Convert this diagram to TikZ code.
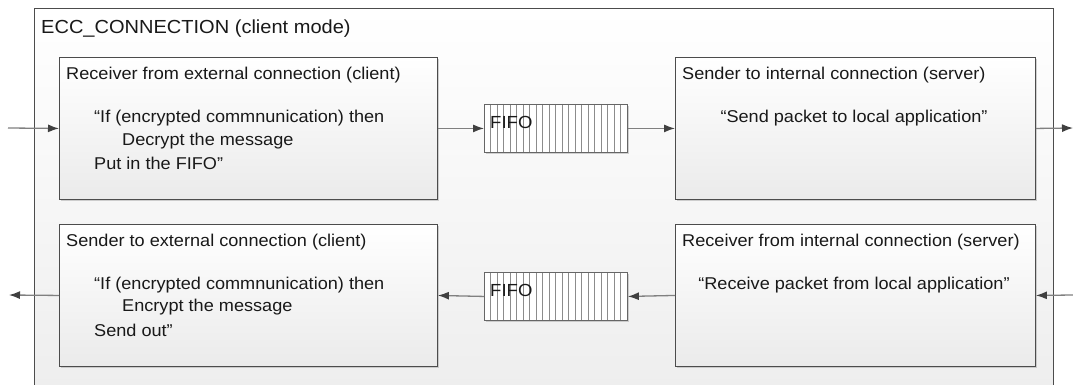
\documentclass[tikz,border=0pt]{standalone}
\usepackage{fontspec}
\setmainfont{Liberation Sans}[FakeStretch=1.06]
\usetikzlibrary{arrows.meta,shadows,calc}

\tikzset{
  container/.style={draw=black!70, line width=0.9pt, top color=white, bottom color=black!7,
                    inner sep=0pt, anchor=north west},
  procbox/.style={draw=black!70, line width=0.9pt, top color=white, bottom color=black!8,
                  inner sep=0pt, anchor=north west, minimum width=378pt, minimum height=142pt,
                  drop shadow={shadow xshift=2pt, shadow yshift=-2pt, fill=black!35, opacity=0.5}},
  fifobox/.style={draw=black!60, line width=0.9pt, fill=white, inner sep=0pt, anchor=north west,
                  minimum width=143pt, minimum height=48pt,
                  drop shadow={shadow xshift=2pt, shadow yshift=-2pt, fill=black!35, opacity=0.5}},
  stripe/.style={draw=black!45, line width=1pt},
  txt/.style={anchor=west, inner sep=0pt, text=black!90, font=\fontsize{17.1}{20}\selectfont},
  titletxt/.style={anchor=west, inner sep=0pt, text=black!90, font=\fontsize{18.9}{20}\selectfont},
  flow/.style={draw=black!50, line width=1.3pt, -{Latex[length=11pt,width=8pt,color=black!75]}},
}

\begin{document}
\begin{tikzpicture}[x=1pt,y=-1pt]
\useasboundingbox (0,0) rectangle (1073,385);
\clip (0,0) rectangle (1073,385);
\fill[white] (0,0) rectangle (1073,385);

% enclosing component
\node[container, minimum width=1019pt, minimum height=400pt] (ecc) at (34,8) {};
\node[titletxt] (ecctitle) at (41,29) {ECC\_CONNECTION (client mode)};

% processing blocks
\node[procbox] (rx) at (59,57) {};
\node[procbox, minimum width=360pt] (tx) at (675,57) {};
\node[procbox] (sx) at (59,224) {};
\node[procbox, minimum width=360pt] (rr) at (675,224) {};

% queues
\node[fifobox] (fa) at (484,104) {};
\node[fifobox] (fb) at (484,272) {};
\foreach \q in {fa,fb}{
  \foreach \i in {1,...,21}{
    \draw[stripe] ($(\q.north west)+(\i*6.5,0)$) -- ($(\q.south west)+(\i*6.5,0)$);
  }
  \draw[draw=black!60, line width=0.9pt] (\q.north west) rectangle (\q.south east);
}
\node[txt, font=\fontsize{17.5}{20}\selectfont] (fatxt) at (490,122) {FIFO};
\node[txt, font=\fontsize{17.5}{20}\selectfont] (fbtxt) at (490,290) {FIFO};

% block texts
\node[txt] (rxtitle) at (66,75) {Receiver from external connection (client)};
\node[txt] (rxl1) at (94,118) {“If (encrypted commnunication) then};
\node[txt] (rxl2) at (122,141) {Decrypt the message};
\node[txt] (rxl3) at (94,163) {Put in the FIFO”};

\node[txt] (txtitle) at (682,75) {Sender to internal connection (server)};
\node[txt, anchor=center] (txl1) at (854,118) {“Send packet to local application”};

\node[txt] (sxtitle) at (66,242) {Sender to external connection (client)};
\node[txt] (sxl1) at (94,285) {“If (encrypted commnunication) then};
\node[txt] (sxl2) at (122,307) {Encrypt the message};
\node[txt] (sxl3) at (94,330) {Send out”};

\node[txt] (rrtitle) at (682,242) {Receiver from internal connection (server)};
\node[txt, anchor=center] (rrl1) at (854,285) {“Receive packet from local application”};

% external ends
\coordinate (inL) at (8,128);
\coordinate (outR) at (1073,128);
\coordinate (inR) at (1073,295);
\coordinate (outL) at (9,295);

% data flow
\draw[flow] (inL) -- (rx.west);
\draw[flow] (rx.east) -- (fa.west);
\draw[flow] (fa.east) -- (tx.west);
\draw[flow] (tx.east) -- (outR);
\draw[flow] (inR) -- (rr.east);
\draw[flow] (rr.west) -- (fb.east);
\draw[flow] (fb.west) -- (sx.east);
\draw[flow] (sx.west) -- (outL);
\end{tikzpicture}
\end{document}
